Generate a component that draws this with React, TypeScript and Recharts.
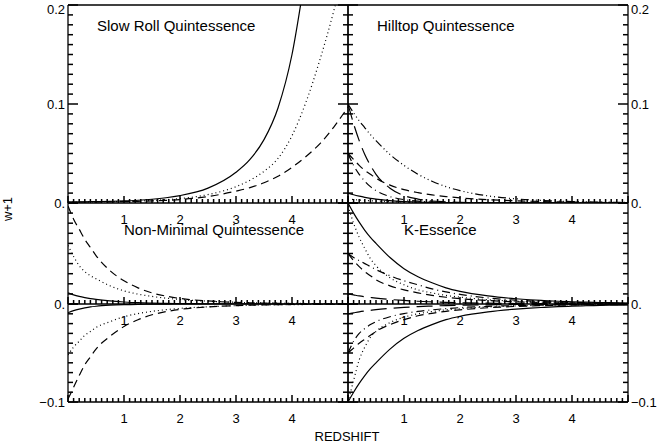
import { LineChart, Line, XAxis, YAxis, ReferenceLine } from 'recharts'

const W = 662
const H = 445
const AX_W = 30
const AX_H = 20
const FONT = 'Liberation Sans, Arial, sans-serif'

// redshift grid shared by every curve
const Z = [0, 0.1, 0.2, 0.3, 0.4, 0.5, 0.75, 1, 1.25, 1.5, 1.75, 2, 2.5, 3, 3.25, 3.5, 3.75, 4, 4.25, 4.5, 4.75, 5]

// Slow Roll Quintessence
const slowSolid = [0.001, 0.001, 0.0011, 0.0012, 0.0013, 0.0014, 0.0017, 0.0021, 0.0028, 0.0038, 0.0053, 0.0075, 0.015, 0.031, 0.044, 0.064, 0.096, 0.15, 0.235, 0.33, 0.45, 0.6]
const slowDotted = [0.001, 0.001, 0.001, 0.0011, 0.0011, 0.0012, 0.0014, 0.0016, 0.002, 0.0026, 0.0034, 0.0045, 0.0085, 0.0165, 0.023, 0.032, 0.045, 0.068, 0.102, 0.145, 0.195, 0.255]
const slowDashed = [0.001, 0.001, 0.001, 0.001, 0.001, 0.0011, 0.0012, 0.0014, 0.0017, 0.0021, 0.0027, 0.0035, 0.0065, 0.012, 0.0155, 0.0205, 0.027, 0.036, 0.047, 0.06, 0.077, 0.097]

// Hilltop Quintessence
const hillDash3 = [0.1, 0.091, 0.083, 0.076, 0.069, 0.063, 0.049, 0.038, 0.029, 0.022, 0.0165, 0.0125, 0.0072, 0.0042, 0.0032, 0.0025, 0.0019, 0.0015, 0.0012, 0.0009, 0.0007, 0.0006]
const hillLong = [0.1, 0.08, 0.063, 0.049, 0.038, 0.029, 0.015, 0.0075, 0.004, 0.002, 0.0012, 0.0007, 0.0003, 0.0001, 0.0001, 0.0001, 0.0001, 0, 0, 0, 0, 0]
const hillDashed = [0.05, 0.044, 0.038, 0.033, 0.029, 0.025, 0.018, 0.0135, 0.0105, 0.0082, 0.0065, 0.0052, 0.0034, 0.0022, 0.0018, 0.0014, 0.0011, 0.0009, 0.0007, 0.0006, 0.0005, 0.0004]
const hillDashDot = [0.05, 0.038, 0.029, 0.022, 0.0165, 0.0125, 0.0065, 0.0034, 0.0018, 0.001, 0.0005, 0.0003, 0.0001, 0, 0, 0, 0, 0, 0, 0, 0, 0]
const hillSolid = [0.01, 0.0083, 0.0069, 0.0057, 0.0047, 0.0039, 0.0024, 0.0015, 0.0009, 0.0006, 0.0004, 0.0002, 0.0001, 0, 0, 0, 0, 0, 0, 0, 0, 0]
const hillDotted = [0.004, 0.0035, 0.003, 0.0026, 0.0023, 0.002, 0.0014, 0.001, 0.0007, 0.0005, 0.0004, 0.0003, 0.0002, 0.0001, 0.0001, 0.0001, 0, 0, 0, 0, 0, 0]

// Non-Minimal Quintessence
const nmDashedP = [0.097, 0.084, 0.074, 0.064, 0.056, 0.048, 0.033, 0.023, 0.016, 0.011, 0.0078, 0.0055, 0.003, 0.0016, 0.0012, 0.0009, 0.0007, 0.0005, 0.0004, 0.0003, 0.0002, 0.0002]
const nmDottedP = [0.058, 0.047, 0.038, 0.032, 0.028, 0.025, 0.018, 0.013, 0.0098, 0.0075, 0.0058, 0.0045, 0.0028, 0.0017, 0.0013, 0.001, 0.0008, 0.0007, 0.0005, 0.0004, 0.0003, 0.0003]
const nmSolidP = [0.011, 0.009, 0.0075, 0.0063, 0.0053, 0.0045, 0.003, 0.002, 0.0013, 0.0009, 0.0006, 0.0004, 0.0002, 0.0001, 0.0001, 0, 0, 0, 0, 0, 0, 0]
const nmDashedN = [-0.097, -0.085, -0.073, -0.062, -0.054, -0.046, -0.033, -0.023, -0.016, -0.011, -0.0078, -0.0055, -0.003, -0.0016, -0.0012, -0.0009, -0.0007, -0.0005, -0.0004, -0.0003, -0.0002, -0.0002]
const nmDottedN = [-0.052, -0.044, -0.038, -0.032, -0.028, -0.024, -0.018, -0.013, -0.0098, -0.0075, -0.0058, -0.0045, -0.0028, -0.0017, -0.0013, -0.001, -0.0008, -0.0007, -0.0005, -0.0004, -0.0003, -0.0003]
const nmSolidN = [-0.009, -0.0068, -0.0052, -0.004, -0.003, -0.0023, -0.0012, -0.0006, -0.0003, -0.0002, -0.0001, 0, 0, 0, 0, 0, 0, 0, 0, 0, 0, 0]

// K-Essence
const keSolidP = [0.1, 0.09, 0.081, 0.073, 0.066, 0.06, 0.046, 0.035, 0.027, 0.021, 0.016, 0.0125, 0.008, 0.0052, 0.0042, 0.0034, 0.0027, 0.0022, 0.0018, 0.0015, 0.0012, 0.001]
const keDottedP = [0.097, 0.08, 0.066, 0.055, 0.045, 0.038, 0.026, 0.019, 0.014, 0.011, 0.0085, 0.0068, 0.0043, 0.0028, 0.0023, 0.0019, 0.0015, 0.0012, 0.001, 0.0008, 0.0007, 0.0006]
const keDashDotP = [0.05, 0.046, 0.043, 0.04, 0.037, 0.034, 0.028, 0.023, 0.019, 0.015, 0.012, 0.0095, 0.006, 0.0038, 0.003, 0.0024, 0.0019, 0.0015, 0.0012, 0.001, 0.0008, 0.0006]
const keDashedP = [0.05, 0.043, 0.037, 0.032, 0.028, 0.024, 0.018, 0.014, 0.011, 0.0085, 0.0067, 0.0053, 0.0034, 0.0022, 0.0018, 0.0014, 0.0011, 0.0009, 0.0007, 0.0006, 0.0005, 0.0004]
const keLongP = [0.01, 0.009, 0.008, 0.0072, 0.0065, 0.0058, 0.0045, 0.0035, 0.0027, 0.0021, 0.0016, 0.0013, 0.0008, 0.0005, 0.0004, 0.0003, 0.0003, 0.0002, 0.0002, 0.0001, 0.0001, 0.0001]
const keSolidN = [-0.1, -0.09, -0.081, -0.073, -0.066, -0.06, -0.046, -0.035, -0.027, -0.021, -0.016, -0.0125, -0.008, -0.0052, -0.0042, -0.0034, -0.0027, -0.0022, -0.0018, -0.0015, -0.0012, -0.001]
const keDottedN = [-0.1, -0.078, -0.057, -0.044, -0.034, -0.028, -0.019, -0.0135, -0.01, -0.0077, -0.006, -0.0048, -0.003, -0.002, -0.0016, -0.0013, -0.0011, -0.0009, -0.0007, -0.0006, -0.0005, -0.0005]
const keDashDotN = [-0.05, -0.038, -0.03, -0.025, -0.021, -0.018, -0.013, -0.0098, -0.0076, -0.006, -0.0047, -0.0037, -0.0024, -0.0016, -0.0013, -0.001, -0.0008, -0.0007, -0.0006, -0.0005, -0.0004, -0.0004]
const keDashedN = [-0.05, -0.045, -0.04, -0.036, -0.032, -0.028, -0.021, -0.016, -0.012, -0.0095, -0.0075, -0.006, -0.0038, -0.0025, -0.002, -0.0016, -0.0013, -0.001, -0.0008, -0.0007, -0.0006, -0.0006]
const keLongN = [-0.01, -0.009, -0.008, -0.0072, -0.0065, -0.0058, -0.0045, -0.0035, -0.0027, -0.0021, -0.0016, -0.0013, -0.0008, -0.0005, -0.0004, -0.0003, -0.0003, -0.0002, -0.0002, -0.0001, -0.0001, -0.0001]

// tick marks (every 0.1 in redshift, every 0.01 in w+1) and labelled values
const X_MARKS = Array.from({ length: 51 }, (_, i) => +(i * 0.1).toFixed(1))
const X_LABELS = [1, 2, 3, 4]
const Y_MARKS_TOP = Array.from({ length: 21 }, (_, i) => +(i * 0.01).toFixed(2))
const Y_MARKS_UP = Array.from({ length: 11 }, (_, i) => +(i * 0.01).toFixed(2))
const Y_MARKS_DOWN = Array.from({ length: 11 }, (_, i) => +(-0.1 + i * 0.01).toFixed(2))
const Y_LABEL_TEXT: Record<string, string> = { '0': '0.', '0.1': '0.1', '0.2': '0.2', '-0.1': '\u22120.1' }

const DASH: Record<string, string | undefined> = {
    solid: undefined,
    dotted: '1 3',
    dashed: '8 5',
    dashDot: '8 4 1 4',
    dash3Dot: '8 3 1 3 1 3 1 3',
    longDash: '16 7',
}

type Curve = { values: number[]; style: string }

const isWhole = (v: number, k: number) => Math.abs(v * k - Math.round(v * k)) < 1e-6

// the reference line gives the full-height (or full-width) line; only the
// inward stub at the axis is drawn, as in the original plot
const xMarkShape = (len: number) => (p: any) => {
    const yb = Math.max(p.y1, p.y2)
    return <line x1={p.x1} x2={p.x1} y1={yb} y2={yb - len} stroke="#000" strokeWidth={1.5} />
}

const yMarkShape = (len: number) => (p: any) => {
    const xl = Math.min(p.x1, p.x2)
    const xr = Math.max(p.x1, p.x2)
    return (
        <g>
            <line x1={xl} x2={xl + len} y1={p.y1} y2={p.y1} stroke="#000" strokeWidth={1.5} />
            <line x1={xr} x2={xr - len} y1={p.y1} y2={p.y1} stroke="#000" strokeWidth={1.5} />
        </g>
    )
}

function XLabel(props: any) {
    const { x, y, payload } = props
    return (
        <text x={x} y={y + 21} textAnchor="middle" fontSize={13} fontFamily={FONT} fill="#000">
            {String(payload.value)}
        </text>
    )
}

function YLabel(props: any) {
    const { x, y, payload, side } = props
    return (
        <text
            x={side === 'left' ? x - 3 : x + 3}
            y={Math.max(y, 9)}
            dy={4.5}
            textAnchor={side === 'left' ? 'end' : 'start'}
            fontSize={13}
            fontFamily={FONT}
            fill="#000"
        >
            {Y_LABEL_TEXT[String(+payload.value.toFixed(2))]}
        </text>
    )
}

interface StripProps {
    x0: number
    x1: number
    y0: number
    y1: number
    domain: [number, number]
    yMarks: number[]
    curves: Curve[]
    leftLabels?: number[]
    rightLabels?: number[]
    topBorder?: boolean
}

function Strip({ x0, x1, y0, y1, domain, yMarks, curves, leftLabels = [], rightLabels = [], topBorder }: StripProps) {
    const data = Z.map((z, i) => {
        const row: Record<string, number> = { z }
        curves.forEach((c, k) => { row['c' + k] = c.values[i] })
        return row
    })
    return (
        <div style={{ position: 'absolute', left: 0, top: 0 }}>
            <LineChart
                width={W}
                height={H}
                data={data}
                margin={{ top: y0, bottom: H - y1 - AX_H, left: x0 - AX_W, right: W - x1 - AX_W }}
            >
                <XAxis
                    dataKey="z"
                    type="number"
                    domain={[0, 5]}
                    ticks={X_LABELS}
                    interval={0}
                    height={AX_H}
                    tickSize={0}
                    tickMargin={0}
                    tickLine={false}
                    axisLine={{ stroke: '#000', strokeWidth: 1.3 }}
                    tick={(p: any) => <XLabel {...p} />}
                    allowDataOverflow
                />
                <YAxis
                    yAxisId="l"
                    type="number"
                    domain={domain}
                    ticks={leftLabels.length ? leftLabels : [domain[0]]}
                    interval={0}
                    width={AX_W}
                    tickSize={0}
                    tickMargin={0}
                    tickLine={false}
                    axisLine={{ stroke: '#000', strokeWidth: 1.3 }}
                    tick={leftLabels.length ? (p: any) => <YLabel {...p} side="left" /> : false}
                    allowDataOverflow
                />
                <YAxis
                    yAxisId="r"
                    orientation="right"
                    type="number"
                    domain={domain}
                    ticks={rightLabels.length ? rightLabels : [domain[0]]}
                    interval={0}
                    width={AX_W}
                    tickSize={0}
                    tickMargin={0}
                    tickLine={false}
                    axisLine={{ stroke: '#000', strokeWidth: 1.3 }}
                    tick={rightLabels.length ? (p: any) => <YLabel {...p} side="right" /> : false}
                    allowDataOverflow
                />
                {topBorder && <ReferenceLine yAxisId="l" y={domain[1]} stroke="#000" strokeWidth={1.3} />}
                {X_MARKS.map(v => (
                    <ReferenceLine
                        key={'x' + v}
                        yAxisId="l"
                        x={v}
                        ifOverflow="visible"
                        stroke="#000"
                        shape={xMarkShape(isWhole(v, 1) ? 7 : 4)}
                    />
                ))}
                {yMarks.map(v => (
                    <ReferenceLine
                        key={'y' + v}
                        yAxisId="l"
                        y={v}
                        ifOverflow="visible"
                        stroke="#000"
                        shape={yMarkShape(isWhole(v, 10) ? 10 : 5)}
                    />
                ))}
                {curves.map((c, k) => (
                    <Line
                        key={k}
                        yAxisId="l"
                        type="monotone"
                        dataKey={'c' + k}
                        stroke="#000"
                        strokeWidth={1.2}
                        strokeDasharray={DASH[c.style]}
                        dot={false}
                        activeDot={false}
                        isAnimationActive={false}
                    />
                ))}
            </LineChart>
        </div>
    )
}

const LEFT = 68
const MID_X = 348
const RIGHT = 628
const TOP = 5
const MID_Y = 203
const ZERO_Y = 304
const BOTTOM = 402

export default function App() {
    return (
        <div style={{ position: 'absolute', left: 0, top: 0, width: W, height: H, background: '#fff', overflow: 'hidden' }}>
            <Strip
                x0={LEFT} x1={MID_X} y0={TOP} y1={MID_Y}
                domain={[0, 0.2]} yMarks={Y_MARKS_TOP} leftLabels={[0, 0.1, 0.2]} topBorder
                curves={[
                    { values: slowSolid, style: 'solid' },
                    { values: slowDotted, style: 'dotted' },
                    { values: slowDashed, style: 'dashed' },
                ]}
            />
            <Strip
                x0={MID_X} x1={RIGHT} y0={TOP} y1={MID_Y}
                domain={[0, 0.2]} yMarks={Y_MARKS_TOP} rightLabels={[0, 0.1, 0.2]} topBorder
                curves={[
                    { values: hillDash3, style: 'dash3Dot' },
                    { values: hillLong, style: 'longDash' },
                    { values: hillDashed, style: 'dashed' },
                    { values: hillDashDot, style: 'dashDot' },
                    { values: hillSolid, style: 'solid' },
                    { values: hillDotted, style: 'dotted' },
                ]}
            />
            <Strip
                x0={LEFT} x1={MID_X} y0={MID_Y} y1={ZERO_Y}
                domain={[0, 0.1]} yMarks={Y_MARKS_UP}
                curves={[
                    { values: nmDashedP, style: 'dashed' },
                    { values: nmDottedP, style: 'dotted' },
                    { values: nmSolidP, style: 'solid' },
                ]}
            />
            <Strip
                x0={LEFT} x1={MID_X} y0={ZERO_Y} y1={BOTTOM}
                domain={[-0.1, 0]} yMarks={Y_MARKS_DOWN} leftLabels={[0, -0.1]}
                curves={[
                    { values: nmDashedN, style: 'dashed' },
                    { values: nmDottedN, style: 'dotted' },
                    { values: nmSolidN, style: 'solid' },
                ]}
            />
            <Strip
                x0={MID_X} x1={RIGHT} y0={MID_Y} y1={ZERO_Y}
                domain={[0, 0.1]} yMarks={Y_MARKS_UP}
                curves={[
                    { values: keSolidP, style: 'solid' },
                    { values: keDottedP, style: 'dotted' },
                    { values: keDashDotP, style: 'dashDot' },
                    { values: keDashedP, style: 'dashed' },
                    { values: keLongP, style: 'longDash' },
                ]}
            />
            <Strip
                x0={MID_X} x1={RIGHT} y0={ZERO_Y} y1={BOTTOM}
                domain={[-0.1, 0]} yMarks={Y_MARKS_DOWN} rightLabels={[0, -0.1]}
                curves={[
                    { values: keSolidN, style: 'solid' },
                    { values: keDottedN, style: 'dotted' },
                    { values: keDashDotN, style: 'dashDot' },
                    { values: keDashedN, style: 'dashed' },
                    { values: keLongN, style: 'longDash' },
                ]}
            />
            <svg width={W} height={H} style={{ position: 'absolute', left: 0, top: 0, pointerEvents: 'none' }}>
                <g fontFamily={FONT} fill="#000">
                    <text x={97} y={31} fontSize={15}>Slow Roll Quintessence</text>
                    <text x={377} y={31} fontSize={15}>Hilltop Quintessence</text>
                    <text x={124} y={235} fontSize={15}>Non-Minimal Quintessence</text>
                    <text x={404} y={235} fontSize={15}>K-Essence</text>
                    <text x={347} y={441} fontSize={13} textAnchor="middle">REDSHIFT</text>
                    <text x={12} y={209} fontSize={13} textAnchor="middle" transform="rotate(-90 12 209)">w+1</text>
                </g>
            </svg>
        </div>
    )
}
